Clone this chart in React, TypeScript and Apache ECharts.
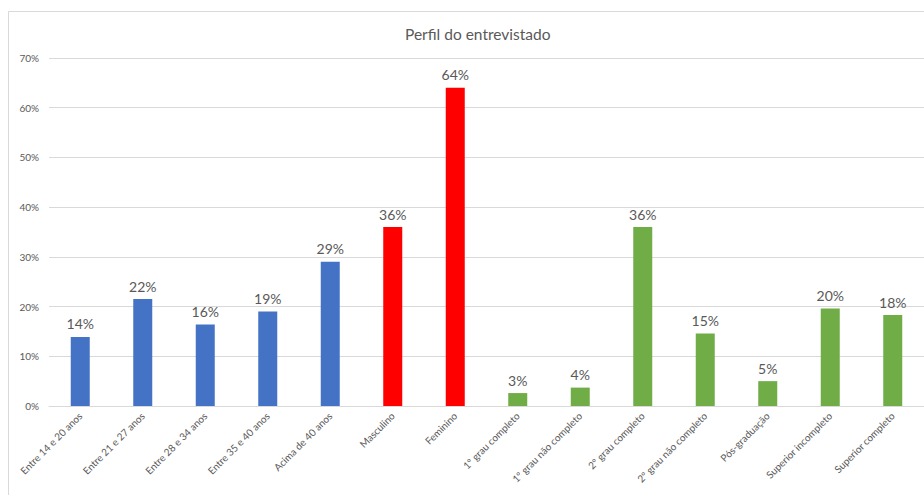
import React, { useEffect, useRef } from "react";
import * as echarts from "echarts";

const categories = [
  "Entre 14 e 20 anos",
  "Entre 21 e 27 anos",
  "Entre 28 e 34 anos",
  "Entre 35 e 40 anos",
  "Acima de 40 anos",
  "Masculino",
  "Feminino",
  "1º grau completo",
  "1º grau não completo",
  "2º grau completo",
  "2º grau não completo",
  "Pós-graduação",
  "Superior incompleto",
  "Superior completo",
];

const values = [13.9, 21.5, 16.4, 19.0, 29.0, 36.0, 64.0, 2.6, 3.7, 36.0, 14.6, 5.0, 19.6, 18.3];

const groups = ["age", "age", "age", "age", "age", "sex", "sex", "edu", "edu", "edu", "edu", "edu", "edu", "edu"];

const groupColors: Record<string, string> = {
  age: "#4472C4",
  sex: "#FF0000",
  edu: "#70AD47",
};

const title = "Perfil do entrevistado";
const yMax = 70;
const yStep = 10;

const FONT = "Lato, 'Open Sans', sans-serif";

export default function App() {
  const ref = useRef<HTMLDivElement>(null);
  useEffect(() => {
    if (!ref.current) return;
    const chart = echarts.init(ref.current, undefined, { renderer: "svg" });
    chart.setOption({
      animation: false,
      backgroundColor: "#ffffff",
      textStyle: { fontFamily: FONT },
      title: {
        text: title,
        left: 400,
        top: 21,
        textStyle: { fontFamily: FONT, fontSize: 15.5, fontWeight: "normal", color: "#595959" },
      },
      graphic: [
        {
          type: "rect",
          shape: { x: 8.5, y: 11.5, width: 1000, height: 1000 },
          style: { fill: "none", stroke: "#d9d9d9", lineWidth: 1 },
          silent: true,
        },
      ],
      grid: { left: 49, top: 58, width: 877, height: 348, containLabel: false },
      xAxis: {
        type: "category",
        data: categories,
        axisLine: { lineStyle: { color: "#d9d9d9" } },
        axisTick: { show: false },
        axisLabel: {
          rotate: 45,
          interval: 0,
          fontSize: 10,
          color: "#595959",
          margin: 8,
          fontFamily: FONT,
        },
      },
      yAxis: {
        type: "value",
        min: 0,
        max: yMax,
        interval: yStep,
        axisLine: { show: false },
        axisTick: { show: false },
        splitLine: { lineStyle: { color: "#d9d9d9" } },
        axisLabel: {
          formatter: "{value}%",
          fontSize: 10,
          color: "#595959",
          margin: 10,
          fontFamily: FONT,
        },
      },
      series: [
        {
          type: "bar",
          barWidth: 19,
          data: values.map((v, i) => ({
            value: v,
            itemStyle: { color: groupColors[groups[i]] },
          })),
          label: {
            show: true,
            position: "top",
            distance: 6,
            formatter: (p: any) => Math.round(p.value) + "%",
            fontSize: 14,
            color: "#595959",
            fontFamily: FONT,
          },
        },
      ],
    });
    return () => chart.dispose();
  }, []);
  return (
    <div
      ref={ref}
      style={{ position: "absolute", left: 0, top: 0, width: 924, height: 495 }}
    />
  );
}
